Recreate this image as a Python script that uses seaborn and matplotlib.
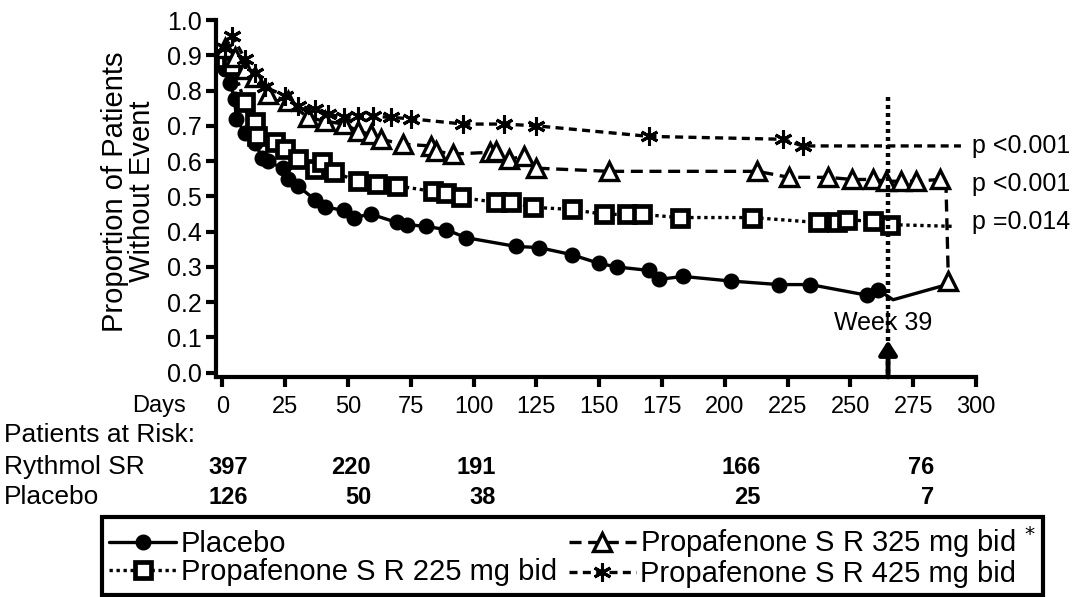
import matplotlib
matplotlib.use("Agg")
import matplotlib.pyplot as plt
import matplotlib.transforms as mtransforms
from matplotlib import font_manager
from matplotlib.lines import Line2D
import seaborn as sns
import pandas as pd

# --- data (days, proportion without event) ---
placebo_days = [1, 3, 5, 5.5, 9, 13, 16, 18, 24, 26, 30, 37, 41, 48.5, 52.5, 59, 69.5, 73.5,
                81, 89, 97, 117, 126, 139, 150, 157, 170, 174, 183.5, 202.5, 221.5, 234,
                256.5, 261, 267, 286]
placebo_vals = [0.86, 0.82, 0.776, 0.72, 0.68, 0.65, 0.61, 0.60, 0.58, 0.55, 0.53, 0.49, 0.47,
                0.46, 0.44, 0.45, 0.426, 0.42, 0.415, 0.406, 0.383, 0.358, 0.355, 0.335, 0.31,
                0.30, 0.29, 0.265, 0.273, 0.26, 0.25, 0.25, 0.22, 0.235, 0.207, 0.245]

mg225_days = [1, 4, 9, 13, 14, 21, 25, 30, 37, 39.5, 44.6, 54, 61.6, 69.5, 84, 89, 95, 109,
              115, 123.6, 139, 152, 161, 167, 182, 211, 237, 244.6, 248.6, 259, 265.7, 291]
mg225_vals = [0.89, 0.87, 0.767, 0.71, 0.67, 0.653, 0.634, 0.605, 0.577, 0.597, 0.568, 0.543,
              0.534, 0.53, 0.514, 0.511, 0.497, 0.483, 0.483, 0.469, 0.463, 0.449, 0.449, 0.449,
              0.44, 0.44, 0.426, 0.426, 0.434, 0.429, 0.42, 0.415]

mg325_days = [1, 5, 9, 13, 18, 26, 34, 41, 48.5, 54, 59, 63, 72, 83, 85, 92, 106.6, 109, 114,
              120, 125, 154, 213, 225.5, 241, 250.6, 259, 264, 270, 276, 285.6, 288, 289]
mg325_vals = [0.92, 0.895, 0.86, 0.838, 0.79, 0.77, 0.724, 0.713, 0.705, 0.685, 0.676, 0.662,
              0.648, 0.643, 0.628, 0.62, 0.625, 0.628, 0.605, 0.614, 0.58, 0.571, 0.571, 0.554,
              0.554, 0.548, 0.548, 0.543, 0.543, 0.543, 0.548, 0.548, 0.26]

mg425_days = [1, 4, 9, 13, 17, 25, 30, 37, 42, 48.5, 54, 60, 67, 75, 96, 112, 125, 170, 223,
              231, 294]
mg425_vals = [0.92, 0.955, 0.89, 0.85, 0.81, 0.785, 0.756, 0.747, 0.733, 0.724, 0.727, 0.727,
              0.724, 0.72, 0.705, 0.705, 0.70, 0.67, 0.662, 0.643, 0.643]

series_labels = ["Placebo", "Propafenone S R 225 mg bid",
                 "Propafenone S R 325 mg bid $^{*}$", "Propafenone S R 425 mg bid"]
p_values = ["p <0.001", "p <0.001", "p =0.014"]
p_value_y = [0.643, 0.535, 0.428]

risk_days = [10.3, 59.2, 109, 214.4, 283.5]
risk_rythmol = [397, 220, 191, 166, 76]
risk_placebo = [126, 50, 38, 25, 7]

x_ticks = list(range(0, 301, 25))
y_ticks = [i / 10 for i in range(11)]
week39_day = 265


def pick_font(names):
    have = {f.name for f in font_manager.fontManager.ttflist}
    for n in names:
        if n in have:
            return n
    return "DejaVu Sans"


sns.set_theme(style="ticks")
regular = pick_font(["Liberation Sans", "Arial", "DejaVu Sans"])
narrow = pick_font(["Liberation Sans Narrow", "Arial Narrow", "Liberation Sans"])
narrow_size = 20 if narrow in ("Liberation Sans Narrow", "Arial Narrow") else 17
plt.rcParams["font.family"] = [regular, "DejaVu Sans"]
plt.rcParams["text.color"] = "black"
plt.rcParams["axes.labelcolor"] = "black"
plt.rcParams["xtick.color"] = "black"
plt.rcParams["ytick.color"] = "black"

fig = plt.figure(figsize=(10.78, 5.97), dpi=100)
ax = fig.add_axes([216 / 1078, 1 - 377 / 597, 760 / 1078, 357 / 597])

styles = [
    dict(linestyle="-", marker="o", markersize=10.5, markerfacecolor="black", markeredgewidth=1),
    dict(linestyle=(0, (1.0, 1.1)), marker="s", markersize=12, markerfacecolor="white", markeredgewidth=3.4),
    dict(linestyle=(0, (3.6, 2.0)), marker="^", markersize=13, markerfacecolor="white", markeredgewidth=2.4),
    dict(linestyle=(0, (2.4, 1.6)), marker=(6, 2, 0), markersize=13, markeredgewidth=2.2),
]
curves = [(placebo_days, placebo_vals, 2), (mg225_days, mg225_vals, 1),
          (mg325_days, mg325_vals, 0), (mg425_days, mg425_vals, 1)]

for (days, vals, n_tail), st in zip(curves, styles):
    df = pd.DataFrame({"day": days, "prop": vals})
    marked = list(range(len(days) - n_tail))
    if n_tail == 0:
        marked = list(range(len(days) - 2)) + [len(days) - 1]
    sns.lineplot(data=df, x="day", y="prop", ax=ax, color="black", linewidth=2.4,
                 estimator=None, sort=False, markevery=marked, markeredgecolor="black",
                 clip_on=False, zorder=3, **st)

# week 39 marker line and arrow
ax.plot([week39_day, week39_day], [0.0, 0.79], color="black", linewidth=3.2,
        linestyle=(0, (0.9, 0.9)), zorder=4)
ax.annotate("", xy=(week39_day, 0.092), xytext=(week39_day, -0.012),
            arrowprops=dict(arrowstyle="-|>,head_width=0.45,head_length=0.7", lw=3.5,
                            color="black", shrinkA=0, shrinkB=0), annotation_clip=False, zorder=5)
ax.text(week39_day - 2, 0.142, "Week 39", ha="center", va="center", fontsize=18, zorder=6)

for txt, yv in zip(p_values, p_value_y):
    ax.text(298.5, yv, txt, ha="left", va="center", fontsize=18, clip_on=False)

ax.set_xlim(-2.5, 300)
ax.set_ylim(-0.012, 1.0)
ax.set_xticks(x_ticks)
ax.set_xticklabels([str(t) for t in x_ticks], fontfamily=narrow, fontsize=narrow_size)
ax.set_yticks(y_ticks)
ax.set_yticklabels([f"{t:.1f}" for t in y_ticks], fontsize=18)
ax.tick_params(axis="both", direction="out", width=3, length=7, color="black",
               labelcolor="black", pad=3)
ax.tick_params(axis="x", pad=7)
ax.set_xlabel("")
ax.set_ylabel("Proportion of Patients\nWithout Event", fontsize=21, linespacing=0.95)
ax.yaxis.set_label_coords(-0.079, 0.52)
for side in ("top", "right"):
    ax.spines[side].set_visible(False)
for side in ("left", "bottom"):
    ax.spines[side].set_linewidth(3)
    ax.spines[side].set_color("black")
ax.set_facecolor("white")

# days label and patients at risk table
fx = mtransforms.blended_transform_factory(ax.transData, fig.transFigure)
fig.text(186 / 1078, 1 - 406 / 597, "Days", ha="right", va="center", fontfamily=narrow, fontsize=narrow_size)
fig.text(4 / 1078, 1 - 435 / 597, "Patients at Risk:", ha="left", va="center", fontfamily=narrow, fontsize=19)
fig.text(4 / 1078, 1 - 467 / 597, "Rythmol SR", ha="left", va="center", fontfamily=narrow, fontsize=19)
fig.text(4 / 1078, 1 - 497 / 597, "Placebo", ha="left", va="center", fontfamily=narrow, fontsize=19)
for d, a, b in zip(risk_days, risk_rythmol, risk_placebo):
    ax.text(d, 1 - 467 / 597, str(a), transform=fx, ha="right", va="center",
            fontfamily=narrow, fontsize=narrow_size, fontweight="bold")
    ax.text(d, 1 - 497 / 597, str(b), transform=fx, ha="right", va="center",
            fontfamily=narrow, fontsize=narrow_size, fontweight="bold")

# legend
handles = []
for lab, st in zip(series_labels, styles):
    handles.append(Line2D([], [], color="black", linewidth=2.4, markeredgecolor="black",
                          label=lab, **st))
leg = fig.legend(handles=handles, ncol=2, loc="upper left",
                 bbox_to_anchor=(102 / 1078, 1 - 517 / 597), borderaxespad=0,
                 frameon=True, fancybox=False, framealpha=1, fontsize=21, handlelength=2.3,
                 handletextpad=0.15, columnspacing=0.4, labelspacing=0.0,
                 borderpad=0.25, numpoints=1)
leg.get_frame().set_edgecolor("black")
leg.get_frame().set_linewidth(3)

fig.savefig("out.png", dpi=100, facecolor="white")
